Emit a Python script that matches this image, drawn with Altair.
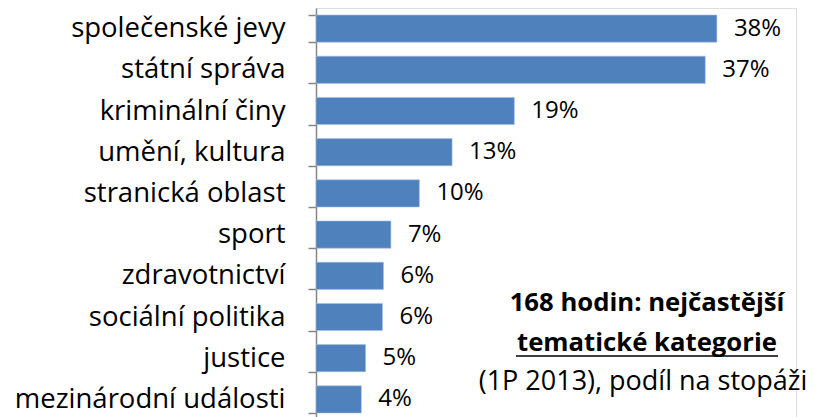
import altair as alt
import pandas as pd

categories = ["společenské jevy", "státní správa", "kriminální činy", "umění, kultura",
              "stranická oblast", "sport", "zdravotnictví", "sociální politika",
              "justice", "mezinárodní události"]
values = [38.0, 36.9, 18.8, 12.9, 9.8, 7.1, 6.4, 6.3, 4.7, 4.3]
labels = ["38%", "37%", "19%", "13%", "10%", "7%", "6%", "6%", "5%", "4%"]

note_lines = ["168 hodin: nejčastější", "tematické kategorie", "(1P 2013), podíl na stopáži"]
note_weights = ["bold", "bold", "normal"]

FONT = "Open Sans"
df = pd.DataFrame({"cat": categories, "val": values, "lab": labels})

y_enc = alt.Y("cat:N", sort=categories, title=None,
              scale=alt.Scale(paddingInner=0.34, paddingOuter=0.17),
              axis=alt.Axis(domainColor="#868686", tickColor="#868686", tickSize=8,
                            tickBand="extent", labelFontSize=27.5, labelColor="#000000",
                            labelFont=FONT, labelPadding=23, labelLimit=400,
                            domainWidth=1.5, tickWidth=1.5))
x_enc = alt.X("val:Q", scale=alt.Scale(domain=[0, 45.5]), axis=None)

bars = alt.Chart(df).mark_bar(color="#4F81BD", stroke="#A7C0DE", strokeWidth=0.6).encode(x=x_enc, y=y_enc)
text = alt.Chart(df).mark_text(align="left", baseline="middle", dx=17, font=FONT,
                               fontSize=24, color="#000000").encode(
    x=x_enc, y=alt.Y("cat:N", sort=categories), text="lab:N")

ndf = pd.DataFrame({"t": note_lines, "w": note_weights, "i": [0, 1, 2]})
note_layers = []
ys = [295, 335, 374]
xs = [331, 331, 327]
for i, (t, w) in enumerate(zip(note_lines, note_weights)):
    note_layers.append(
        alt.Chart(ndf.iloc[[i]]).mark_text(align="center", baseline="middle", font=FONT,
                                           fontSize=27 if w == "normal" else 25.7,
                                           fontWeight=w, color="#000000").encode(
            x=alt.value(xs[i]), y=alt.value(ys[i]), text="t:N"))
underline = alt.Chart(ndf.iloc[[1]]).mark_rule(color="#000000", strokeWidth=1.5).encode(
    x=alt.value(200), x2=alt.value(462), y=alt.value(348))

chart = alt.layer(bars, text, *note_layers, underline).properties(
    width=480, height=412,
    autosize=alt.AutoSizeParams(type="none"),
    padding={"left": 308, "top": 0, "right": 19, "bottom": 0},
).configure_view(stroke=None).configure(background="#ffffff")

chart.save("out.html", embed_options={"renderer": "svg", "actions": False})
